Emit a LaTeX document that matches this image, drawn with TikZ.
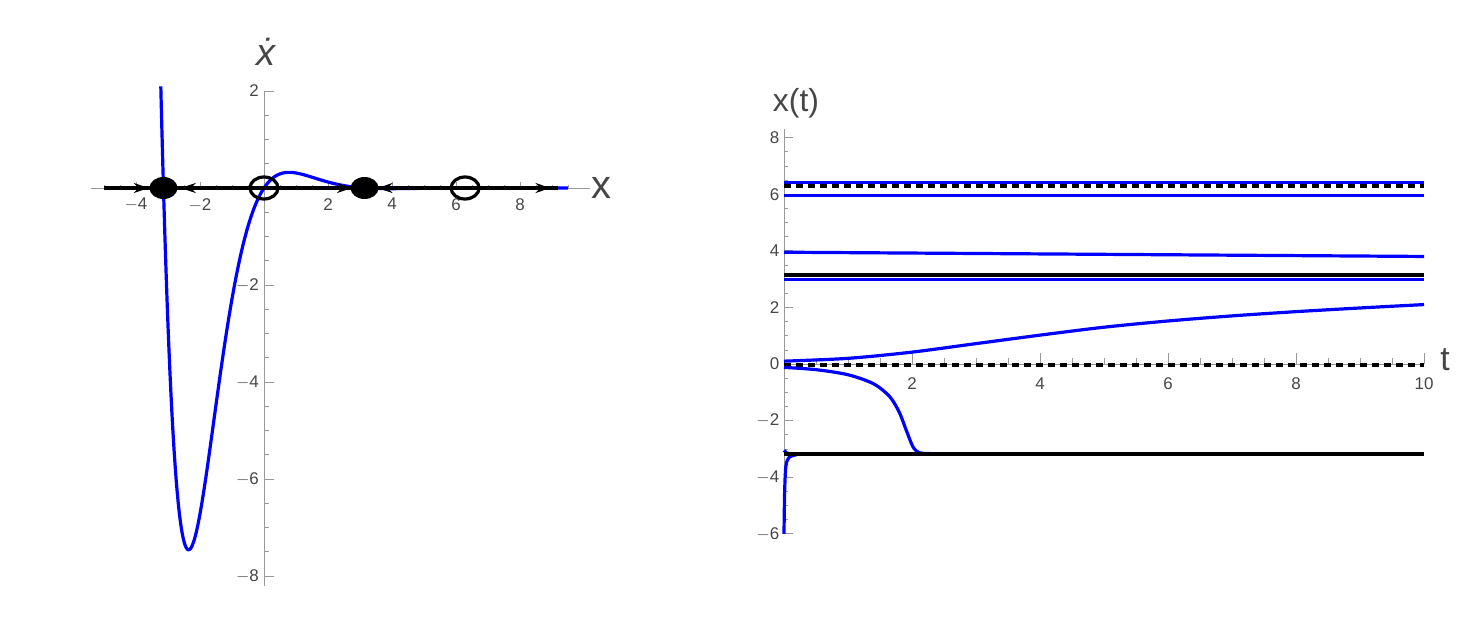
\documentclass[tikz,border=0pt]{standalone}
\usepackage{fontspec}
\setmainfont{Liberation Sans}
\usetikzlibrary{arrows.meta,shapes.geometric}
\definecolor{tk}{RGB}{70,70,70}
\definecolor{bl}{RGB}{0,0,255}
\tikzset{
 axis/.style={draw=gray!80,line width=0.7bp},
 tl/.style={text=tk,font=\fontsize{17}{17}\selectfont},
 big/.style={text=tk,font=\fontsize{40}{40}\selectfont},
 curve/.style={bl,line width=3.2bp},
 fix/.style={black,line width=4.5bp},
 dashln/.style={black,line width=4bp,dash pattern=on 7bp off 5bp},
 arr/.style={-{Stealth[length=15bp,width=10bp]},black,line width=4bp},
 fp/.style={ellipse,minimum width=28bp,minimum height=22bp,inner sep=0},
}
\begin{document}
\begin{tikzpicture}[x=1bp,y=-1bp]
\useasboundingbox (0,0) rectangle (1459,621);
% ===== left plot =====
\begin{scope}[shift={(264,188)},x=32bp,y=48.5bp]
 \draw[axis] (-5.4,0) -- (10.2,0);
 \draw[axis] (0,2) -- (0,-8.2);
 \foreach \i in {-10,...,19}{\draw[axis] (\i/2,0) -- ++(0,0.06);}
 \foreach \i in {-4,-2,2,4,6,8}{\draw[axis] (\i,0) -- ++(0,0.12);
   \node[tl,anchor=north] (lx\i) at (\i,-0.14) {\ifnum\i<0 $-$\the\numexpr-\i\relax\else\i\fi};}
 \foreach \i in {-16,...,4}{\draw[axis] (0,\i/2) -- ++(0.15,0);}
 \foreach \i in {-8,-6,-4,-2,2}{\draw[axis] (0,\i) -- ++(0.3,0);
   \node[tl,anchor=east] (ly\i) at (-0.05,\i) {\ifnum\i<0 $-$\the\numexpr-\i\relax\else\i\fi};}
 \draw[curve] plot[domain=-3.225:9.5,samples=400] ({\x},{exp(-\x)*sin(\x r)});
 \draw[black,line width=4bp] (-5,0) -- (9.2,0);
 \coordinate (a0) at (-5,0); \coordinate (a1) at (-3.6,0);
 \draw[arr] (a0) -- (a1);
 \coordinate (b0) at (-1,0); \coordinate (b1) at (-2.6,0);
 \draw[arr] (b0) -- (b1);
 \coordinate (c0) at (1,0); \coordinate (c1) at (2.75,0);
 \draw[arr] (c0) -- (c1);
 \coordinate (d0) at (5,0); \coordinate (d1) at (3.55,0);
 \draw[arr] (d0) -- (d1);
 \coordinate (e0) at (7.5,0); \coordinate (e1) at (8.95,0);
 \draw[arr] (e0) -- (e1);
 \node[fp,fill=black] (p1) at (-3.1416,0) {};
 \node[fp,fill=black] (p3) at (3.1416,0) {};
 \node[fp,draw=black,line width=3.2bp] (p2) at (0,0) {};
 \node[fp,draw=black,line width=3.2bp] (p4) at (6.2832,0) {};
\end{scope}
\node[big,font=\fontsize{38}{38}\selectfont\itshape] (xd) at (266,52) {\.x};
\node[big] (xl) at (601,188) {x};
% ===== right plot =====
\begin{scope}[shift={(784,364)},x=64bp,y=28.3bp]
 \draw[axis] (0,-6) -- (0,8.3);
 \draw[axis] (0,0) -- (10,0);
 \foreach \i in {1,...,20}{\draw[axis] (\i/2,0) -- ++(0,0.2);}
 \foreach \i in {2,4,6,8,10}{\draw[axis] (\i,0) -- ++(0,0.4);
   \node[tl,anchor=north] (tx\i) at (\i,-0.35) {\i};}
 \foreach \i in {-12,...,16}{\draw[axis] (0,\i/2) -- ++(0.07,0);}
 \foreach \i in {-6,-4,-2,0,2,4,6,8}{\draw[axis] (0,\i) -- ++(0.14,0);
   \node[tl,anchor=east] (ty\i) at (-0.02,\i) {\ifnum\i<0 $-$\the\numexpr-\i\relax\else\i\fi};}
 \draw[curve] (0,6.4) -- (10,6.4);
 \draw[dashln] (0,6.2832) -- (10,6.2832);
 \draw[curve] (0,5.95) -- (10,5.95);
 \draw[curve] (0,3.95) -- (10,3.8);
 \draw[curve] (0,3.0) -- (10,3.0);
 \draw[fix] (0,3.14) -- (10,3.14);
 \draw[curve] plot[smooth] coordinates {(0,0.1) (1,0.2) (2,0.42) (3,0.72) (4,1.02) (5,1.3) (6,1.52) (7,1.7) (8,1.85) (9,1.98) (10,2.1)};
 \draw[dashln] (0,-0.05) -- (10,-0.05);
 \draw[curve] plot[smooth] coordinates {(0,-0.12) (0.5,-0.2) (1,-0.38) (1.4,-0.7) (1.65,-1.15) (1.8,-1.7) (1.92,-2.4) (2.02,-2.95) (2.12,-3.14) (2.3,-3.16)};
 \draw[curve] plot[smooth] coordinates {(0,-6) (0.01,-4.5) (0.03,-3.6) (0.08,-3.3) (0.2,-3.2)};
 \draw[curve] (0,-3.05) to[out=-60,in=180] (0.2,-3.18);
 \draw[fix] (0,-3.18) -- (10,-3.18);
\end{scope}
\node[big,font=\fontsize{32}{32}\selectfont] (xt) at (796,103) {x(t)};
\node[big,font=\fontsize{34}{34}\selectfont] (tl) at (1445,360) {t};
\end{tikzpicture}
\end{document}
